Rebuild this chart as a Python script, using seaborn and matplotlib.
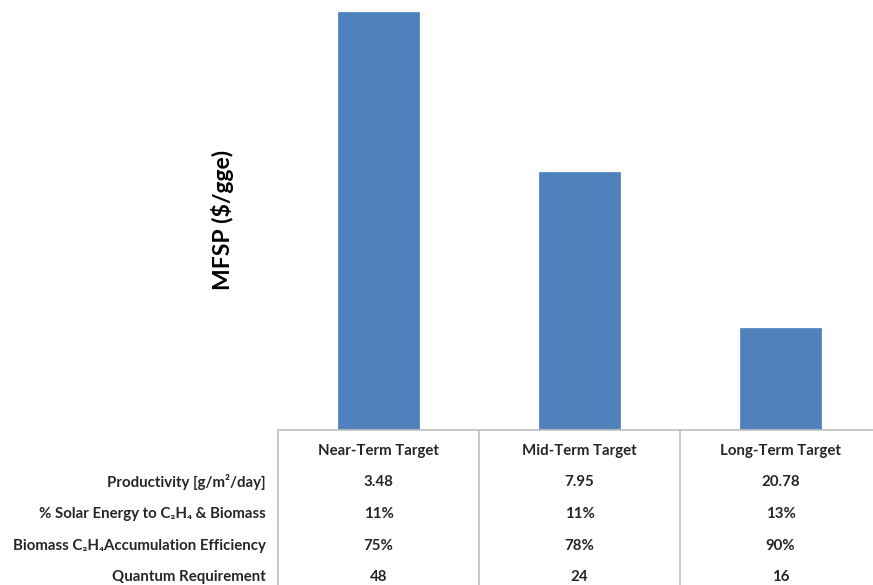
import matplotlib
matplotlib.use("Agg")
import matplotlib.pyplot as plt
import seaborn as sns
import pandas as pd

categories = ["Near-Term Target", "Mid-Term Target", "Long-Term Target"]
mfsp = [20.9, 12.9, 5.1]
row_labels = ["Productivity [g/m²/day]",
              "% Solar Energy to C₂H₄ & Biomass",
              "Biomass C₂H₄Accumulation Efficiency",
              "Quantum Requirement"]
productivity = ["3.48", "7.95", "20.78"]
solar_energy = ["11%", "11%", "13%"]
accumulation = ["75%", "78%", "90%"]
quantum = ["48", "24", "16"]

sns.set_theme(style="white")
plt.rcParams["font.family"] = ["Lato", "DejaVu Sans"]

W, H = 873, 585
fig = plt.figure(figsize=(W / 100, H / 100), dpi=100)
ax_left, ax_bottom_px, ax_top_px, col_w = 278, 430, 0, 201
ax = fig.add_axes([ax_left / W, (H - ax_bottom_px) / H, 3 * col_w / W, (ax_bottom_px - ax_top_px) / H])

df = pd.DataFrame({"target": categories, "mfsp": mfsp})
sns.barplot(data=df, x="target", y="mfsp", color="#4F81BD", width=0.4, ax=ax,
            saturation=1, edgecolor="#4A7EBB", linewidth=0.5)
ax.set_xlim(-0.5, 2.5)
ax.set_ylim(0, mfsp[0] * 430 / 418)
ax.set_xticks([])
ax.set_yticks([])
ax.set_xlabel("")
ax.set_ylabel("")
for s in ["left", "right", "top"]:
    ax.spines[s].set_visible(False)
ax.spines["bottom"].set_color("#BFBFBF")
ax.spines["bottom"].set_linewidth(1.2)

tr = ax.get_xaxis_transform()
def yfrac(py):
    return (ax_bottom_px - py) / ax_bottom_px

# vertical table lines
for xv in [-0.5, 0.5, 1.5]:
    ax.plot([xv, xv], [0, yfrac(H + 5)], transform=tr, color="#BFBFBF",
            lw=1.2, clip_on=False)

fs = 10.8
for i, c in enumerate(categories):
    ax.text(i, yfrac(451), c, transform=tr, ha="center", va="center",
            fontsize=fs, fontweight="bold", color="#262626")

rows = [productivity, solar_energy, accumulation, quantum]
row_y = [482, 514, 546, 577]
for lab, vals, py in zip(row_labels, rows, row_y):
    fig.text(266 / W, (H - py) / H, lab, ha="right", va="center",
             fontsize=fs, fontweight="bold", color="#262626")
    for i, v in enumerate(vals):
        ax.text(i, yfrac(py), v, transform=tr, ha="center", va="center",
                fontsize=fs, fontweight="bold", color="#262626")

fig.text(222 / W, (H - 220) / H, "MFSP ($/gge)", rotation=90, ha="center",
         va="center", fontsize=16.5, fontweight="bold", color="black")

fig.savefig("out.png", dpi=100)
